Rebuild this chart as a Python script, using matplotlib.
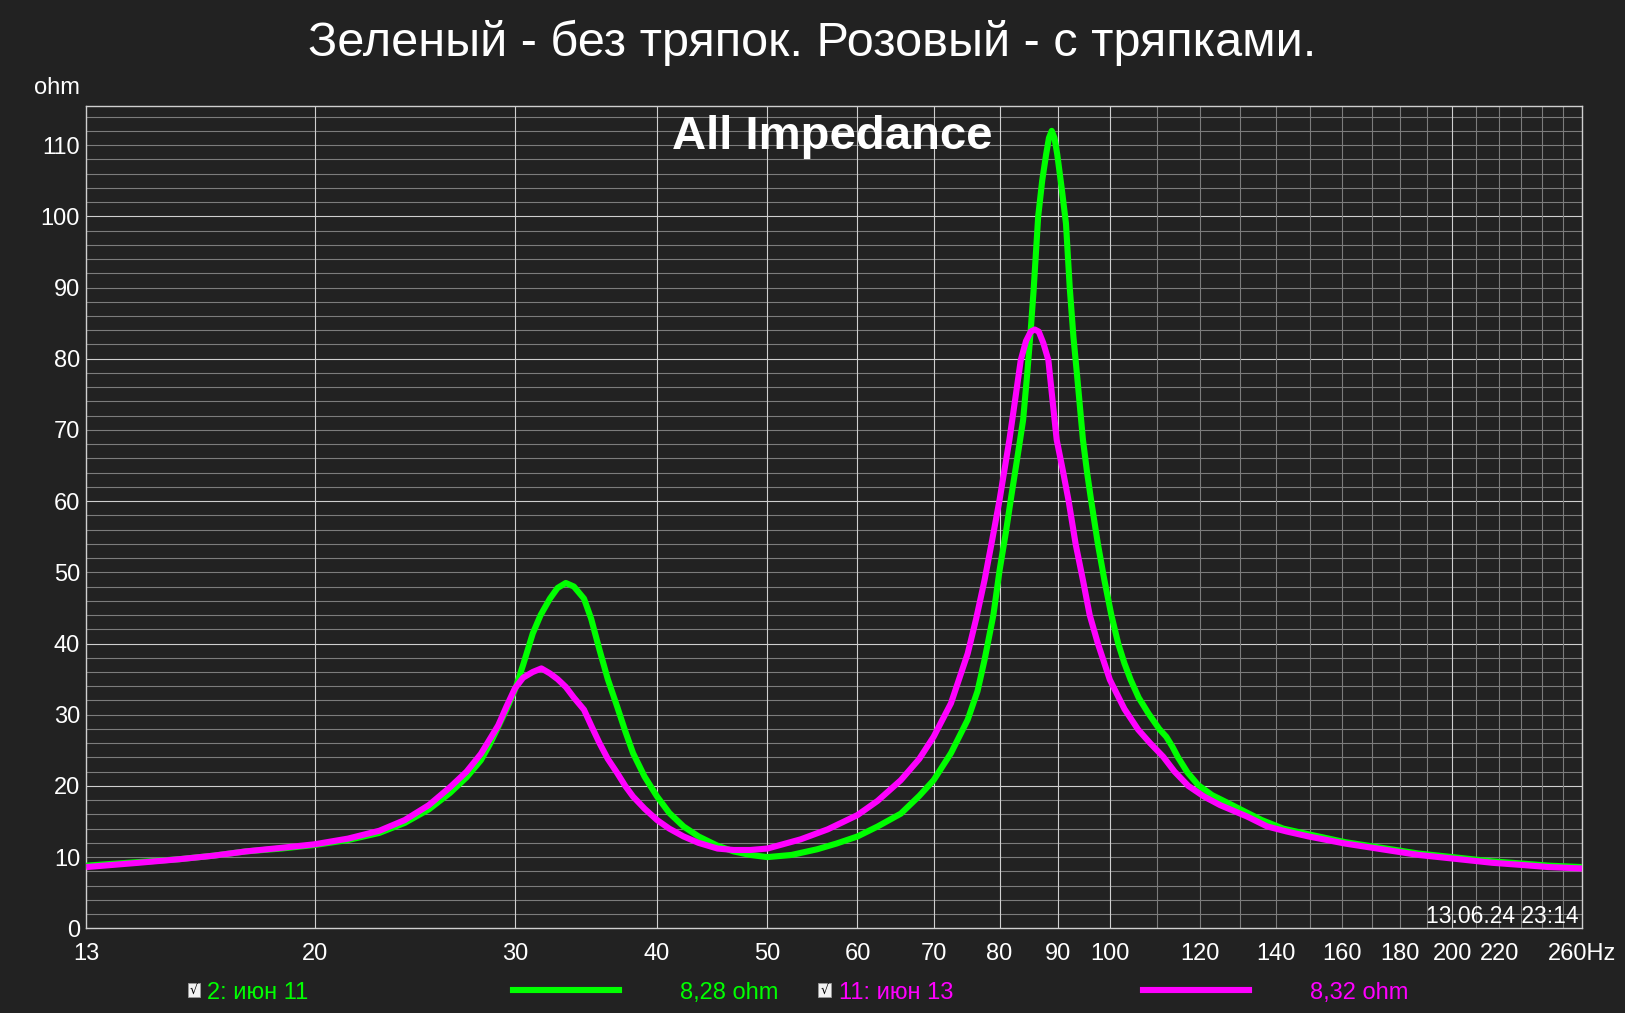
import matplotlib
matplotlib.use('Agg')
import matplotlib.pyplot as plt
from matplotlib.patches import Rectangle
from matplotlib.lines import Line2D

plt.rcParams['font.family'] = ['Liberation Sans', 'DejaVu Sans']

# ---------------- data ----------------
green_f = [12.6, 14, 15.2, 16.3, 17.4, 18.7, 20, 21.4, 22.8, 24, 25.2, 26.3, 27.2, 28.0,
           28.5, 29.0, 29.5, 30.0, 30.5, 31.1, 31.6, 32.2, 32.7, 33.25, 33.8, 34.5, 35.0,
           35.6, 36.2, 36.9, 37.5, 38.1, 39.0, 40, 41, 42.2, 43.5, 45.2, 46.7, 48.3, 50,
           52.5, 55.3, 57.5, 60, 62.5, 65.5, 68, 70, 72.5, 75, 76.5, 77.6, 79, 80, 81,
           81.9, 83, 83.9, 84.6, 85.2, 85.7, 86.5, 87.2, 87.9, 88.4, 88.9, 89.4, 89.9, 90.7,
           91.5, 92.2, 92.9, 93.6, 94.7, 95.5, 96.3, 97.6, 98.9, 100.3, 101.7, 103, 104.3,
           106, 108.1, 110.5, 112.1, 113.5, 114.8, 117, 119.6, 123, 127, 131, 136, 142,
           149.5, 161, 175, 186.8, 200, 216.8, 230, 243, 260]
green_z = [8.8, 9.3, 9.7, 10.2, 10.8, 11.2, 11.7, 12.4, 13.4, 14.8, 16.7, 19.0, 21.2, 23.6,
           25.8, 28.3, 30.8, 33.5, 37.0, 41.4, 44.0, 46.3, 47.8, 48.5, 48.0, 46.3, 43.5,
           39.1, 35.0, 31.1, 27.7, 24.6, 21.3, 18.5, 16.2, 14.3, 12.9, 11.6, 10.8, 10.3, 10.0,
           10.3, 11.1, 11.9, 12.9, 14.3, 16.1, 18.6, 20.8, 24.6, 29.3, 33.3, 37.7, 44.0, 50.3, 55.5,
           60.6, 66.5, 71.4, 77.9, 84.0, 89.6, 100.0, 105.0, 108.7, 111.0, 112.0, 111.0, 108.7, 104.0,
           99.0, 90.0, 83.0, 77.5, 68.6, 64.0, 60.0, 54.0, 48.9, 44.0, 40.0, 37.2, 34.9,
           32.4, 30.2, 28.0, 26.9, 25.5, 24.0, 21.9, 20.1, 18.7, 17.6, 16.5, 15.2, 14.0,
           13.2, 12.1, 11.2, 10.5, 10.0, 9.4, 9.1, 8.8, 8.6]

pink_f = [12.6, 14, 15.2, 16.3, 17.4, 18.7, 20, 21.4, 22.8, 24, 25.2, 26.3, 27.2, 28.0,
          29.0, 29.5, 30.0, 30.5, 31.1, 31.65, 32.2, 32.7, 33.25, 33.8, 34.5, 35.0, 35.6,
          36.2, 36.9, 37.5, 38.1, 39.0, 40, 41, 42.2, 43.5, 45.2, 46.7, 48.3, 50, 53.5,
          56.5, 60, 62.5, 65.5, 68, 70, 72.5, 75, 76.3, 77.6, 78.8, 80, 81.6, 82.6, 83.5,
          84.4, 85.2, 85.9, 86.6, 87.4, 88.3, 89.0, 89.8, 91.0, 92.0, 93.3, 94.7, 96.0, 97.6, 100,
          103, 105.9, 108.5, 111.4, 114, 117.2, 121, 125, 132, 137.5, 143, 149.5, 161, 175,
          186.8, 200, 216.8, 230, 243, 260]
pink_z = [8.6, 9.2, 9.7, 10.2, 10.8, 11.3, 11.8, 12.6, 13.7, 15.2, 17.3, 19.8, 22.0, 24.5,
          28.5, 31.2, 33.7, 35.2, 36.0, 36.5, 35.8, 35.0, 33.9, 32.4, 30.7, 28.5, 26.0,
          23.8, 21.8, 20.0, 18.5, 16.8, 15.2, 14.0, 12.9, 12.0, 11.2, 11.0, 11.0, 11.2, 12.5,
          13.9, 15.9, 17.9, 20.8, 23.8, 26.9, 31.6, 38.6, 43.5, 48.9, 54.5, 60.2, 68.6, 74.5, 79.8,
          82.5, 83.8, 84.1, 83.8, 82.2, 79.8, 74.5, 68.6, 64.0, 60.0, 54.0, 48.9, 44.0, 40.0, 34.9,
          30.8, 27.9, 26.0, 24.1, 22.0, 20.0, 18.5, 17.3, 15.7, 14.3, 13.6, 12.9, 11.9, 11.0,
          10.3, 9.8, 9.2, 8.9, 8.6, 8.4]

y_ticks = [0, 10, 20, 30, 40, 50, 60, 70, 80, 90, 100, 110]
x_tick_pos = [12.6, 20, 30, 40, 50, 60, 70, 80, 90, 100, 120, 140, 160, 180, 200, 220, 260]
x_tick_labels = ['13', '20', '30', '40', '50', '60', '70', '80', '90', '100', '120', '140',
                 '160', '180', '200', '220', '260Hz']
major_vgrid = [20, 30, 40, 50, 60, 70, 80, 90, 100, 200]
minor_vgrid = [110, 120, 130, 140, 150, 160, 170, 180, 190, 210, 220, 230, 240, 250]

title = 'Зеленый - без тряпок. Розовый - с тряпками.'
subtitle = 'All Impedance'
series_names = ['2: июн 11', '11: июн 13']
series_values = ['8,28 ohm', '8,32 ohm']
timestamp = '13.06.24 23:14'

# ---------------- style ----------------
BG = '#222222'
GREEN = '#00ff00'
MAGENTA = '#ff00ff'
GRID_MAJ = '#cfcfcf'
GRID_MIN = '#7c7c7c'
W, H = 1625, 1013

fig = plt.figure(figsize=(W / 100, H / 100), dpi=100, facecolor=BG)
L, R, T, B = 86.3, 1582, 106.3, 928.3
ax = fig.add_axes([L / W, 1 - B / H, (R - L) / W, (B - T) / H])
ax.set_facecolor(BG)
ax.set_xscale('log')
ax.set_xlim(12.6, 260)
ax.set_ylim(0, 115.45)

for y in range(2, 116, 2):
    ax.axhline(y, color=GRID_MAJ if y % 20 == 0 else GRID_MIN, lw=0.8, zorder=1)
for x in major_vgrid:
    ax.axvline(x, color=GRID_MAJ, lw=0.8, zorder=1)
for x in minor_vgrid:
    ax.axvline(x, color=GRID_MIN, lw=0.8, zorder=1)

for s in ax.spines.values():
    s.set_color('#d0d0d0')
    s.set_linewidth(1.0)
    s.set_zorder(2)

ax.plot(green_f, green_z, color=GREEN, lw=4.4, solid_joinstyle='round',
        solid_capstyle='butt', zorder=3)
ax.plot(pink_f, pink_z, color=MAGENTA, lw=4.4, solid_joinstyle='round',
        solid_capstyle='butt', zorder=4)

ax.set_yticks(y_ticks)
ax.set_yticklabels([str(v) for v in y_ticks])
ax.set_xticks(x_tick_pos)
ax.set_xticklabels(x_tick_labels)
ax.xaxis.set_minor_locator(matplotlib.ticker.NullLocator())
ax.tick_params(axis='both', length=0, colors='white', labelsize=17)
ax.tick_params(axis='y', pad=4.5)
ax.tick_params(axis='x', pad=10.5)

# texts
fig.text(0.5, 1 - 56 / H, title, color='white', fontsize=35, ha='center', va='baseline')
fig.text(832 / W, 1 - 149 / H, subtitle, color='white', fontsize=34, fontweight='bold',
         ha='center', va='baseline', zorder=5)
fig.text(80 / W, 1 - 93.7 / H, 'ohm', color='white', fontsize=17, ha='right', va='baseline')
fig.text(1579 / W, 1 - 923 / H, timestamp, color='white', fontsize=16.5, ha='right',
         va='baseline')

# legend row
LY = 990
base = 998.5


def checkbox(x0):
    fig.add_artist(Rectangle((x0 / W, 1 - 997 / H), 12.5 / W, 14 / H,
                             transform=fig.transFigure, facecolor='#f2f2f2',
                             edgecolor='#9a9a9a', lw=0.6))
    fig.text((x0 + 6.3) / W, 1 - 990 / H, '√', color='black', fontsize=9,
             ha='center', va='center', family=['DejaVu Sans'])


checkbox(187.5)
fig.text(207 / W, 1 - base / H, series_names[0], color=GREEN, fontsize=17, va='baseline')
fig.add_artist(Line2D([513 / W, 619 / W], [1 - LY / H, 1 - LY / H], color=GREEN, lw=4.4,
                      transform=fig.transFigure))
fig.text(680 / W, 1 - base / H, series_values[0], color=GREEN, fontsize=17, va='baseline')

checkbox(818)
fig.text(838.6 / W, 1 - base / H, series_names[1], color=MAGENTA, fontsize=17,
         va='baseline')
fig.add_artist(Line2D([1142.5 / W, 1249 / W], [1 - LY / H, 1 - LY / H], color=MAGENTA,
                      lw=4.4, transform=fig.transFigure))
fig.text(1310.5 / W, 1 - base / H, series_values[1], color=MAGENTA, fontsize=17,
         va='baseline')

fig.savefig('out.png', dpi=100, facecolor=BG)
